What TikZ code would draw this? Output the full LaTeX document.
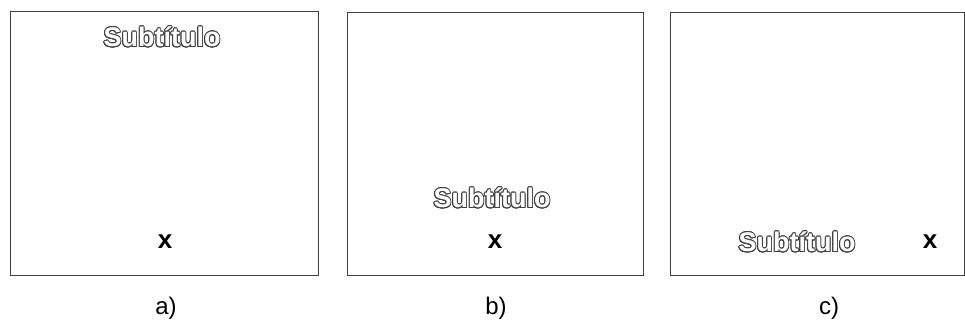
\documentclass[tikz,border=0pt]{standalone}
\usepackage{fontspec}
\setmainfont{Liberation Sans}
\usetikzlibrary{positioning}

% hollow text: grey copies round the position, white copy on top
\newcommand{\hollowtext}[2]{%
  \foreach \a in {0,22.5,...,337.5}
    \node[subt, text=black!75, shift={(\a:0.9)}] (#2-\a) at (#1) {Subtítulo};
  \node[subt, text=white] (#2) at (#1) {Subtítulo};}

\begin{document}
\begin{tikzpicture}[x=1pt, y=-1pt,
    frame/.style={draw=black!75, line width=1pt, inner sep=0pt},
    subt/.style={inner sep=0pt, font=\fontsize{27}{27}\selectfont\bfseries},
    xlab/.style={inner sep=0pt, font=\fontsize{26}{26}\selectfont\bfseries},
    panellabel/.style={inner sep=0pt, font=\fontsize{24}{24}\selectfont}
  ]
  \useasboundingbox (0,0) rectangle (965,323);

  % Panel a
  \node[frame, minimum width=308pt, minimum height=263pt] (pa) at (164,143.5) {};
  \hollowtext{162,37}{sa}
  \node[xlab] (xa) at (165,242) {x};
  \node[panellabel] (la) at (166,308) {a)};

  % Panel b
  \node[frame, minimum width=296pt, minimum height=262pt] (pb) at (495,144) {};
  \hollowtext{492,198}{sb}
  \node[xlab] (xb) at (495,242) {x};
  \node[panellabel] (lb) at (496,308) {b)};

  % Panel c
  \node[frame, minimum width=294pt, minimum height=262pt] (pc) at (817,144) {};
  \hollowtext{797,242}{sc}
  \node[xlab] (xc) at (930,242) {x};
  \node[panellabel] (lc) at (829,308) {c)};
\end{tikzpicture}
\end{document}
